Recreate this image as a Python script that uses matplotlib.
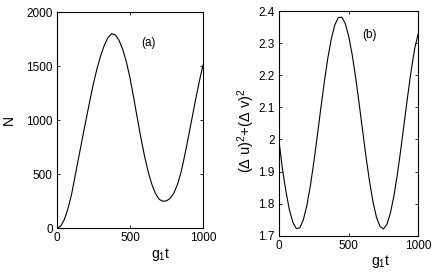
import matplotlib
matplotlib.use("Agg")
import matplotlib.pyplot as plt
from matplotlib.ticker import FixedFormatter

plt.rcParams["font.family"] = ["Liberation Sans", "DejaVu Sans"]
plt.rcParams["mathtext.fontset"] = "custom"
plt.rcParams["mathtext.rm"] = "Liberation Sans"
plt.rcParams["mathtext.it"] = "Liberation Sans"
plt.rcParams["font.size"] = 8.5

# time axis (g1 t), shared by both panels
t = [0, 25, 50, 75, 100, 125, 150, 175, 200, 225, 250, 275, 300, 325, 350,
     375, 400, 425, 450, 475, 500, 525, 550, 575, 600, 625, 650, 675, 700,
     725, 750, 775, 800, 825, 850, 875, 900, 925, 950, 975, 1000]

# panel (a): photon number N
n_photons = [0, 20, 80, 180, 315, 490, 665, 840, 1010, 1180, 1340, 1480,
             1600, 1695, 1765, 1800, 1788, 1738, 1655, 1540, 1390, 1210,
             1020, 835, 665, 520, 405, 320, 268, 250, 254, 277, 325, 405,
             520, 675, 845, 1020, 1195, 1360, 1510]

# panel (b): (du)^2 + (dv)^2
fluct = [1.995, 1.907, 1.837, 1.780, 1.741, 1.722, 1.725, 1.750, 1.794,
         1.855, 1.929, 2.011, 2.096, 2.178, 2.252, 2.312, 2.356, 2.379,
         2.381, 2.362, 2.322, 2.265, 2.193, 2.113, 2.028, 1.945, 1.869,
         1.805, 1.757, 1.729, 1.721, 1.736, 1.771, 1.824, 1.892, 1.971,
         2.055, 2.139, 2.218, 2.285, 2.330]

x_ticks = [0, 500, 1000]
n_ticks = [0, 500, 1000, 1500, 2000]
f_ticks = [1.7, 1.8, 1.9, 2.0, 2.1, 2.2, 2.3, 2.4]
f_labels = ["1.7", "1.8", "1.9", "2", "2.1", "2.2", "2.3", "2.4"]


def style_axes(ax):
    ax.tick_params(direction="in", length=2.2, width=0.6, top=True,
                   right=True, pad=3, colors="black")
    for sp in ax.spines.values():
        sp.set_linewidth(0.8)
        sp.set_color("black")


fig = plt.figure(figsize=(4.36, 2.73), dpi=100)

ax1 = fig.add_axes([0.1307, 0.1637, 0.3349, 0.7923])
ax1.plot(t, n_photons, color="black", lw=0.8)
ax1.set_xlim(0, 1000)
ax1.set_ylim(0, 2000)
ax1.set_xticks(x_ticks)
ax1.set_yticks(n_ticks)
style_axes(ax1)
ax1.set_xlabel("g$_1$t", fontsize=10)
ax1.xaxis.set_label_coords(0.71, -0.08)
ax1.set_ylabel("N", fontsize=10)
ax1.yaxis.set_label_coords(-0.28, 0.5)
ax1.text(630, 1713, "(a)", ha="center", va="center", fontsize=8.5)

ax2 = fig.add_axes([0.6399, 0.1366, 0.3195, 0.8231])
ax2.plot(t, fluct, color="black", lw=0.8)
ax2.set_xlim(0, 1000)
ax2.set_ylim(1.7, 2.4)
ax2.set_xticks(x_ticks)
ax2.set_yticks(f_ticks)
ax2.yaxis.set_major_formatter(FixedFormatter(f_labels))
style_axes(ax2)
ax2.set_xlabel("g$_1$t", fontsize=10)
ax2.xaxis.set_label_coords(0.73, -0.077)
ax2.set_ylabel("($\\Delta$ u)$^2$+($\\Delta$ v)$^2$", fontsize=10.5)
ax2.yaxis.set_label_coords(-0.16, 0.467)
ax2.text(651, 2.325, "(b)", ha="center", va="center", fontsize=8.5)

fig.savefig("out.png", dpi=100)
